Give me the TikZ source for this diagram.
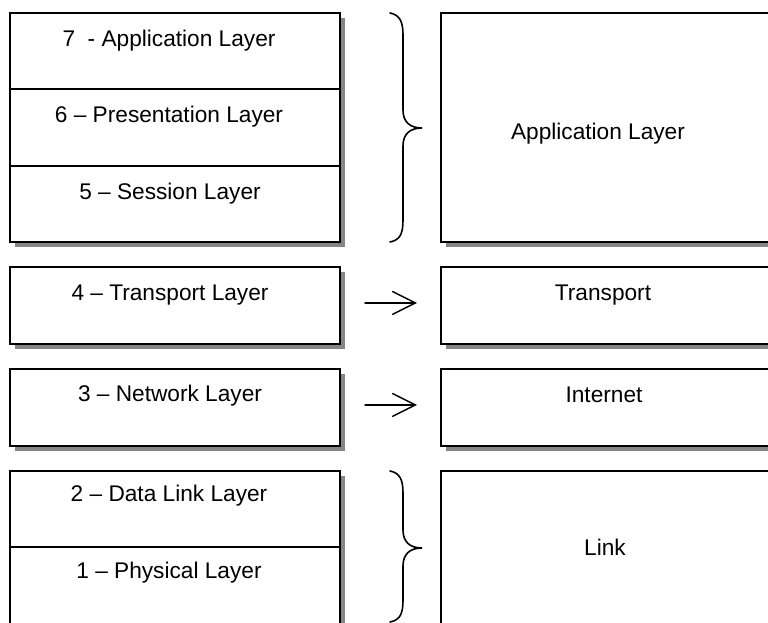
\documentclass[tikz,border=0pt]{standalone}
\usepackage{fontspec}
\setmainfont{Liberation Sans}
\usetikzlibrary{arrows.meta,shadows}
\begin{document}
\begin{tikzpicture}[x=0.75pt,y=-0.75pt,
  layerbox/.style={rectangle, draw=black, line width=1.3pt, fill=white,
    inner sep=0pt, outer sep=0pt, anchor=north west,
    general shadow={fill=black!48, shadow xshift=3.9pt, shadow yshift=-3.9pt}},
  lbl/.style={anchor=base, inner sep=0pt, font=\fontsize{17pt}{20pt}\selectfont},
  sepline/.style={line width=1.3pt},
  bracepath/.style={line width=1.2pt, line cap=round},
  maparrow/.style={line width=1.1pt, line cap=round,
    -{Straight Barb[length=17pt,width=17pt,line cap=round]},
    shorten <=18.75pt, shorten >=18pt}]
\useasboundingbox (0,0) rectangle (768,623);
\clip (0,0) rectangle (768,623);
\fill[white] (0,0) rectangle (768,623);

% OSI model (left column)
\node[layerbox, minimum width=247.5pt, minimum height=171.75pt] (osiup) at (10,13) {};
\draw[sepline] (10,89) -- (340,89);
\draw[sepline] (10,166) -- (340,166);
\node[layerbox, minimum width=247.5pt, minimum height=57.75pt] (ositr) at (10,267) {};
\node[layerbox, minimum width=247.5pt, minimum height=57.75pt] (osinw) at (10,369) {};
\node[layerbox, minimum width=247.5pt, minimum height=119.25pt] (osilo) at (10,471) {};
\draw[sepline] (10,547) -- (340,547);

\node[lbl] (l7) at (169,47)  {7\ \ - Application Layer};
\node[lbl] (l6) at (169,123) {6 – Presentation Layer};
\node[lbl] (l5) at (170,200) {5 – Session Layer};
\node[lbl] (l4) at (170,301) {4 – Transport Layer};
\node[lbl] (l3) at (170,402) {3 – Network Layer};
\node[lbl] (l2) at (169,502) {2 – Data Link Layer};
\node[lbl] (l1) at (169,578) {1 – Physical Layer};

% TCP/IP model (right column)
\node[layerbox, minimum width=261.75pt, minimum height=171.75pt] (tcpapp) at (441,13) {};
\node[layerbox, minimum width=261.75pt, minimum height=57.75pt] (tcptr) at (441,267) {};
\node[layerbox, minimum width=261.75pt, minimum height=57.75pt] (tcpin) at (441,369) {};
\node[layerbox, minimum width=261.75pt, minimum height=119.25pt] (tcplk) at (441,471) {};

\node[lbl] (rapp) at (598,140) {Application Layer};
\node[lbl] (rtr)  at (603,301) {Transport};
\node[lbl] (rin)  at (604,403) {Internet};
\node[lbl] (rlk)  at (605,556) {Link};

% braces grouping several OSI layers
\draw[bracepath] (390,13) .. controls (400,15) and (403,22) .. (403,35)
  -- (403,110) .. controls (403,122) and (410,128) .. (422,128)
  .. controls (410,128) and (403,134) .. (403,146)
  -- (403,220) .. controls (403,234) and (400,240) .. (390,242);
\draw[bracepath] (390,471) .. controls (400,473) and (403,480) .. (403,493)
  -- (403,530) .. controls (403,542) and (410,548) .. (422,548)
  .. controls (410,548) and (403,554) .. (403,566)
  -- (403,600) .. controls (403,614) and (400,620) .. (390,622);

% one-to-one mappings
\draw[maparrow] ([yshift=1.9pt]ositr.east) -- ([yshift=1.9pt]tcptr.west);
\draw[maparrow] ([yshift=1.9pt]osinw.east) -- ([yshift=1.9pt]tcpin.west);
\end{tikzpicture}
\end{document}
